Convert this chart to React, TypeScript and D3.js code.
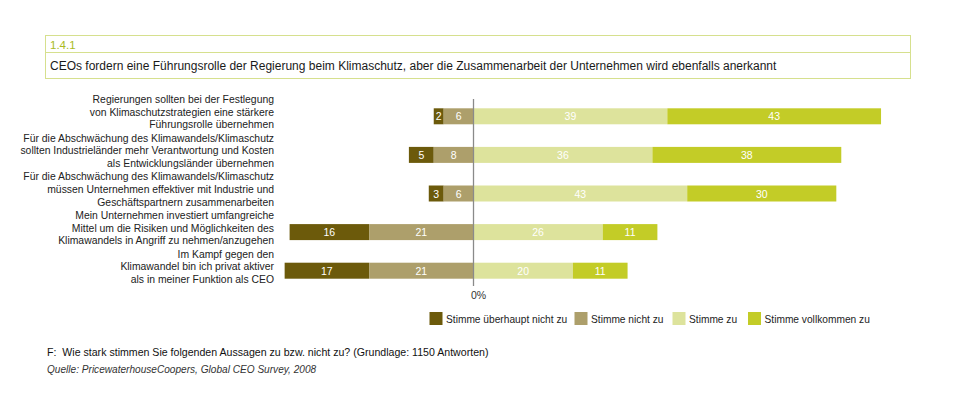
import React from "react";
import * as d3 from "d3";

const categories = ["r1", "r2", "r3", "r4", "r5"];
const categoryLabels: string[][] = [
  ["Regierungen sollten bei der Festlegung", "von Klimaschutzstrategien eine stärkere", "Führungsrolle übernehmen"],
  ["Für die Abschwächung des Klimawandels/Klimaschutz", "sollten Industrieländer mehr Verantwortung und Kosten", "als Entwicklungsländer übernehmen"],
  ["Für die Abschwächung des Klimawandels/Klimaschutz", "müssen Unternehmen effektiver mit Industrie und", "Geschäftspartnern zusammenarbeiten"],
  ["Mein Unternehmen investiert umfangreiche", "Mittel um die Risiken und Möglichkeiten des", "Klimawandels in Angriff zu nehmen/anzugehen"],
  ["Im Kampf gegen den", "Klimawandel bin ich privat aktiver", "als in meiner Funktion als CEO"],
];
const stronglyDisagree = [2, 5, 3, 16, 17];
const disagree = [6, 8, 6, 21, 21];
const agree = [39, 36, 43, 26, 20];
const stronglyAgree = [43, 38, 30, 11, 11];
const seriesNames = ["Stimme überhaupt nicht zu", "Stimme nicht zu", "Stimme zu", "Stimme vollkommen zu"];
const seriesColors = ["#6c5a0b", "#ad9f6b", "#dde39c", "#c3cc27"];
const zeroLabel = "0%";
const sectionNo = "1.4.1";
const titleText = "CEOs fordern eine Führungsrolle der Regierung beim Klimaschutz, aber die Zusammenarbeit der Unternehmen wird ebenfalls anerkannt";
const questionText = "F:\u00a0 Wie stark stimmen Sie folgenden Aussagen zu bzw. nicht zu? (Grundlage: 1150 Antworten)";
const sourceText = "Quelle: PricewaterhouseCoopers, Global CEO Survey, 2008";

const FONT = "'Liberation Sans', Arial, Helvetica, sans-serif";

export default function App() {
  const W = 960, H = 412;
  const x = d3.scaleLinear().domain([-40, 82]).range([473.5 - 40 * 4.97, 473.5 + 82 * 4.97]);
  const y = d3.scalePoint<string>().domain(categories).range([97, 290]).padding(0.5);
  const barH = 16;

  const rows = categories.map((c, i) => {
    const segs: { x0: number; x1: number; v: number; k: number }[] = [];
    const nd = stronglyDisagree[i], n = disagree[i];
    segs.push({ x0: -(nd + n), x1: -n, v: nd, k: 0 });
    segs.push({ x0: -n, x1: 0, v: n, k: 1 });
    segs.push({ x0: 0, x1: agree[i], v: agree[i], k: 2 });
    segs.push({ x0: agree[i], x1: agree[i] + stronglyAgree[i], v: stronglyAgree[i], k: 3 });
    return { c, i, segs };
  });

  const legendX = [429.5, 574.5, 672.5, 748];

  return (
    <svg width={W} height={H} style={{ display: "block", position: "absolute", left: 0, top: 0 }} fontFamily={FONT}>
      <rect x={0} y={0} width={W} height={H} fill="#ffffff" />
      {/* header box */}
      <rect x={45.5} y={35.5} width={865} height={43} fill="none" stroke="#d6e08e" strokeWidth={1} />
      <line x1={45.5} x2={910.5} y1={52.5} y2={52.5} stroke="#d6e08e" strokeWidth={1} />
      <text x={50} y={48.5} fontSize={11.5} fill="#a9bb1f">{sectionNo}</text>
      <text x={50} y={70} fontSize={12} fill="#1a1a1a">{titleText}</text>

      {/* category labels */}
      {rows.map((r) => (
        <text key={"l" + r.c} textAnchor="end" fontSize={10.4} fill="#222">
          {categoryLabels[r.i].map((ln, j) => (
            <tspan key={j} x={274} y={(y(r.c) as number) + (j - 1) * 12.6 - 0.5}>{ln}</tspan>
          ))}
        </text>
      ))}

      {/* bars */}
      {rows.map((r) => (
        <g key={"b" + r.c}>
          {r.segs.map((s) => (
            <g key={s.k}>
              <rect x={x(s.x0)} y={(y(r.c) as number) - barH / 2} width={x(s.x1) - x(s.x0)} height={barH} fill={seriesColors[s.k]} />
              <text x={(x(s.x0) + x(s.x1)) / 2} y={(y(r.c) as number) + 4} textAnchor="middle" fontSize={10.5} fill="#ffffff">{s.v}</text>
            </g>
          ))}
        </g>
      ))}

      {/* zero axis */}
      <line x1={x(0)} x2={x(0)} y1={99} y2={286} stroke="#8a8a8a" strokeWidth={1.3} />
      <text x={x(0) + 5} y={299} textAnchor="middle" fontSize={10.5} fill="#333">{zeroLabel}</text>

      {/* legend */}
      {seriesNames.map((n, k) => (
        <g key={"lg" + k}>
          <rect x={legendX[k]} y={312} width={13} height={13} fill={seriesColors[k]} />
          <text x={legendX[k] + 16.5} y={322.5} fontSize={10.2} fill="#222">{n}</text>
        </g>
      ))}

      {/* footer */}
      <text x={47} y={356} fontSize={10.6} fill="#111">{questionText}</text>
      <text x={47} y={373} fontSize={10.1} fontStyle="italic" fill="#333">{sourceText}</text>
    </svg>
  );
}
